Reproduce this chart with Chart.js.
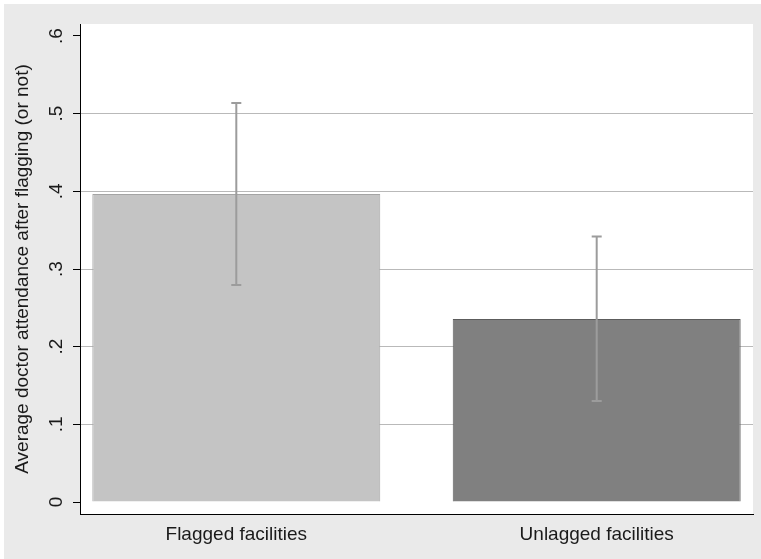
<!DOCTYPE html>
<html>
<head>
<meta charset="utf-8">
<script src="https://cdn.jsdelivr.net/npm/chart.js@4"></script>
<style>
    html, body { margin: 0; padding: 0; background: #ffffff; }
    #wrap {
        position: absolute;
        left: 4px;
        top: 4px;
        width: 757px;
        height: 555px;
        background: #eaeaea;
    }
</style>
</head>
<body>
<div id="wrap"><canvas id="attendanceChart"></canvas></div>
<script>
const categories = ['Flagged facilities', 'Unlagged facilities'];
const positions = [1, 2];
const means = [0.3966, 0.2356];
const ciLower = [0.2794, 0.1300];
const ciUpper = [0.5137, 0.3420];
const yTicks = [0, 0.1, 0.2, 0.3, 0.4, 0.5, 0.6];
const yTickLabels = ['0', '.1', '.2', '.3', '.4', '.5', '.6'];

const fontFamily = '"Liberation Sans", Arial, Helvetica, sans-serif';
const textColor = '#1a1a1a';

// white plot region on the grey graph background
const plotBackground = {
    id: 'plotBackground',
    beforeDraw(chart) {
        const { ctx, chartArea } = chart;
        ctx.save();
        ctx.fillStyle = '#ffffff';
        ctx.fillRect(chartArea.left, chartArea.top, chartArea.right - chartArea.left, chartArea.bottom - chartArea.top);
        ctx.restore();
    }
};

// confidence interval whiskers with caps
const errorBars = {
    id: 'errorBars',
    afterDatasetsDraw(chart) {
        const { ctx } = chart;
        const yScale = chart.scales.y;
        const meta = chart.getDatasetMeta(0);
        ctx.save();
        ctx.strokeStyle = '#9c9c9c';
        ctx.lineWidth = 2;
        meta.data.forEach((bar, i) => {
            const x = bar.x;
            const yLo = yScale.getPixelForValue(ciLower[i]);
            const yHi = yScale.getPixelForValue(ciUpper[i]);
            ctx.beginPath();
            ctx.moveTo(x, yLo);
            ctx.lineTo(x, yHi);
            ctx.moveTo(x - 5, yLo);
            ctx.lineTo(x + 5, yLo);
            ctx.moveTo(x - 5, yHi);
            ctx.lineTo(x + 5, yHi);
            ctx.stroke();
        });
        ctx.restore();
    }
};

const ctx = document.getElementById('attendanceChart');

new Chart(ctx.getContext('2d'), {
    type: 'bar',
    data: {
        datasets: [{
            data: positions.map((x, i) => ({ x: x, y: means[i] })),
            backgroundColor: ['#c4c4c4', '#808080'],
            borderColor: ['#a4a4a4', '#5c5c5c'],
            borderWidth: 1,
            categoryPercentage: 1,
            barPercentage: 0.799
        }]
    },
    options: {
        responsive: true,
        maintainAspectRatio: false,
        animation: false,
        layout: {
            padding: { left: 0, top: 20, right: 8, bottom: 0 }
        },
        plugins: {
            legend: { display: false },
            tooltip: { enabled: false }
        },
        scales: {
            x: {
                type: 'linear',
                offset: false,
                min: 0.5663,
                max: 2.4337,
                afterBuildTicks: scale => {
                    scale.ticks = positions.map(v => ({ value: v }));
                },
                afterFit: scale => {
                    scale.height = 45;
                },
                grid: {
                    display: false,
                    drawTicks: false,
                    offset: false
                },
                border: {
                    display: true,
                    color: '#000000',
                    width: 1
                },
                ticks: {
                    padding: 9,
                    color: textColor,
                    font: { family: fontFamily, size: 19 },
                    maxRotation: 0,
                    callback: value => categories[positions.indexOf(value)]
                }
            },
            y: {
                min: -0.01545,
                max: 0.61545,
                afterBuildTicks: scale => {
                    scale.ticks = yTicks.map(v => ({ value: v }));
                },
                afterFit: scale => {
                    scale.width = 76;
                },
                grid: {
                    color: c => (c.tick && (c.tick.value === 0 || c.tick.value === 0.6)) ? 'rgba(0,0,0,0)' : '#b9b9b9',
                    tickColor: '#000000',
                    tickLength: 7,
                    lineWidth: 1
                },
                border: {
                    display: true,
                    color: '#000000',
                    width: 1
                },
                ticks: {
                    padding: 8,
                    color: textColor,
                    minRotation: 90,
                    maxRotation: 90,
                    crossAlign: 'center',
                    font: { family: fontFamily, size: 19 },
                    callback: value => yTickLabels[yTicks.indexOf(value)]
                },
                title: {
                    display: true,
                    text: 'Average doctor attendance after flagging (or not)',
                    color: textColor,
                    font: { family: fontFamily, size: 19 },
                    padding: { top: 7, bottom: 0 }
                }
            }
        }
    },
    plugins: [plotBackground, errorBars]
});
</script>
</body>
</html>
